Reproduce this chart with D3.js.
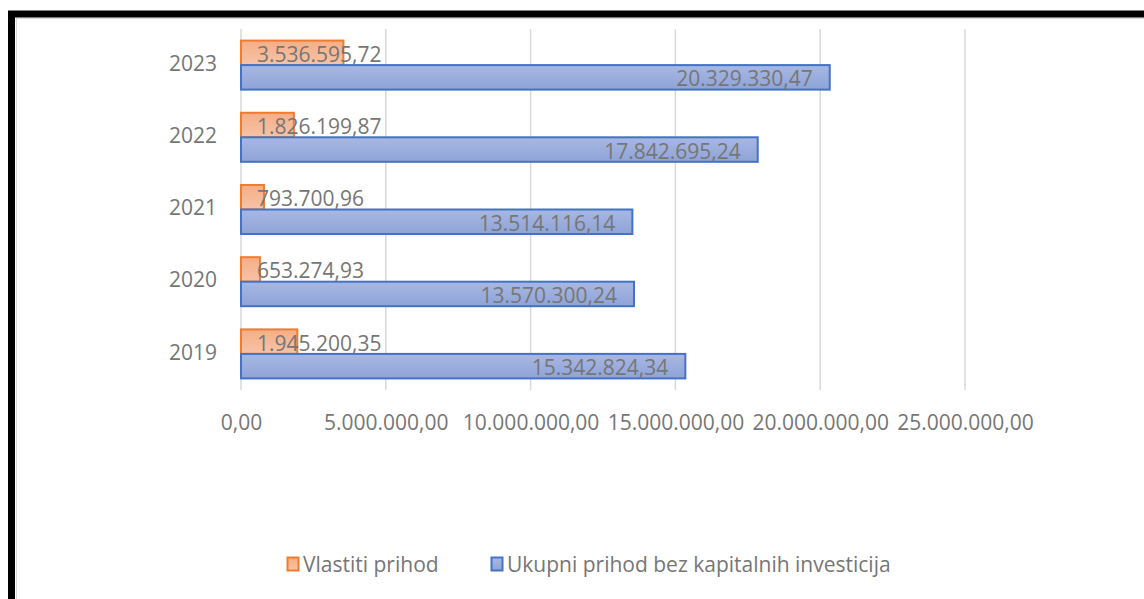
<!DOCTYPE html>
<html>
<head>
<meta charset="utf-8">
<script src="https://cdn.jsdelivr.net/npm/d3@7"></script>
<style>
  html, body { margin: 0; padding: 0; background: #ffffff; }
  svg { display: block; }
  text { font-family: "Open Sans", sans-serif; fill: #767676; }
</style>
</head>
<body>
<svg id="chart" width="1144" height="599"></svg>
<script>
// ---- data ----
const years = ["2023", "2022", "2021", "2020", "2019"];
const vlastitiPrihod = [3536595.72, 1826199.87, 793700.96, 653274.93, 1945200.35];
const ukupniPrihod = [20329330.47, 17842695.24, 13514116.14, 13570300.24, 15342824.34];
const seriesNames = ["Vlastiti prihod", "Ukupni prihod bez kapitalnih investicija"];
const xTicks = [0, 5000000, 10000000, 15000000, 20000000, 25000000];

// ---- formatting (Croatian style: 1.234.567,89) ----
const fmt = d3.formatLocale({decimal: ",", thousands: ".", grouping: [3], currency: ["", ""]}).format(",.2f");

const svg = d3.select("#chart");
const W = 1144, H = 599;

// frame
svg.append("rect").attr("x", 0).attr("y", 0).attr("width", W).attr("height", H).attr("fill", "#fff");
svg.append("rect").attr("x", 16.5).attr("y", 18.5).attr("width", W).attr("height", H)
  .attr("fill", "none").attr("stroke", "#d9d9d9").attr("stroke-width", 1);
svg.append("rect").attr("x", 11.5).attr("y", 14).attr("width", W + 20).attr("height", H + 20)
  .attr("fill", "none").attr("stroke", "#000").attr("stroke-width", 7);

// gradients
const defs = svg.append("defs");
const gO = defs.append("linearGradient").attr("id", "gOrange").attr("x1", 0).attr("y1", 0).attr("x2", 0).attr("y2", 1);
gO.append("stop").attr("offset", "0%").attr("stop-color", "#f4ae87");
gO.append("stop").attr("offset", "100%").attr("stop-color", "#f7c3a6");
const gB = defs.append("linearGradient").attr("id", "gBlue").attr("x1", 0).attr("y1", 0).attr("x2", 0).attr("y2", 1);
gB.append("stop").attr("offset", "0%").attr("stop-color", "#a8b8e2");
gB.append("stop").attr("offset", "100%").attr("stop-color", "#8ea3d8");

const fills = ["url(#gOrange)", "url(#gBlue)"];
const strokes = ["#ed7d31", "#4472c4"];

// scales
const x = d3.scaleLinear().domain([0, 25000000]).range([241, 965]);
const y = d3.scaleBand().domain(years).range([29, 390]).paddingInner(0.321).paddingOuter(0.1605);
const ySub = d3.scaleBand().domain([0, 1]).range([0, y.bandwidth()]);

// gridlines
svg.append("g").selectAll("line").data(xTicks).join("line")
  .attr("x1", d => x(d)).attr("x2", d => x(d))
  .attr("y1", 29).attr("y2", 390)
  .attr("stroke", "#d9d9d9").attr("stroke-width", 1.5);

// x axis labels
const xAxis = d3.axisBottom(x).tickValues(xTicks).tickFormat(fmt).tickSize(0).tickPadding(0);
const gx = svg.append("g").attr("transform", "translate(0,415)").call(xAxis);
gx.select(".domain").remove();
gx.selectAll("text").style("font-family", "Open Sans, sans-serif").style("font-size", "21px")
  .attr("fill", "#767676").attr("dy", "0.71em").attr("y", 0);

// y axis labels
const yAxis = d3.axisLeft(y).tickSize(0).tickPadding(24);
const gy = svg.append("g").attr("transform", "translate(241,-1)").call(yAxis);
gy.select(".domain").remove();
gy.selectAll("text").style("font-family", "Open Sans, sans-serif").style("font-size", "21px").attr("fill", "#767676");

// bars
const rows = years.map((yr, i) => ({year: yr, vals: [vlastitiPrihod[i], ukupniPrihod[i]]}));
const grp = svg.append("g").selectAll("g").data(rows).join("g")
  .attr("transform", d => `translate(0,${y(d.year)})`);

grp.selectAll("rect").data(d => d.vals.map((v, k) => ({v, k}))).join("rect")
  .attr("x", x(0))
  .attr("y", d => ySub(d.k))
  .attr("width", d => x(d.v) - x(0))
  .attr("height", ySub.bandwidth())
  .attr("fill", d => fills[d.k])
  .attr("stroke", d => strokes[d.k])
  .attr("stroke-width", 2);

// data labels
grp.selectAll("text.lbl").data(d => d.vals.map((v, k) => ({v, k}))).join("text")
  .attr("class", "lbl")
  .attr("x", d => d.k === 0 ? x(0) + 16 : x(d.v) - 17)
  .attr("y", d => ySub(d.k) + ySub.bandwidth() / 2 + 1)
  .attr("dominant-baseline", "central")
  .attr("text-anchor", d => d.k === 0 ? "start" : "end")
  .style("font-size", "21px")
  .text(d => fmt(d.v));

// legend
const legendX = [287, 491];
const lg = svg.append("g").selectAll("g").data(seriesNames).join("g")
  .attr("transform", (d, i) => `translate(${legendX[i]},557)`);
lg.append("rect").attr("x", 0.5).attr("y", 0.5).attr("width", 11).attr("height", 13)
  .attr("fill", (d, i) => fills[i]).attr("stroke", (d, i) => strokes[i]).attr("stroke-width", 2);
lg.append("text").attr("x", 16).attr("y", 7).attr("dominant-baseline", "central")
  .style("font-size", "21px").text(d => d);
</script>
</body>
</html>
